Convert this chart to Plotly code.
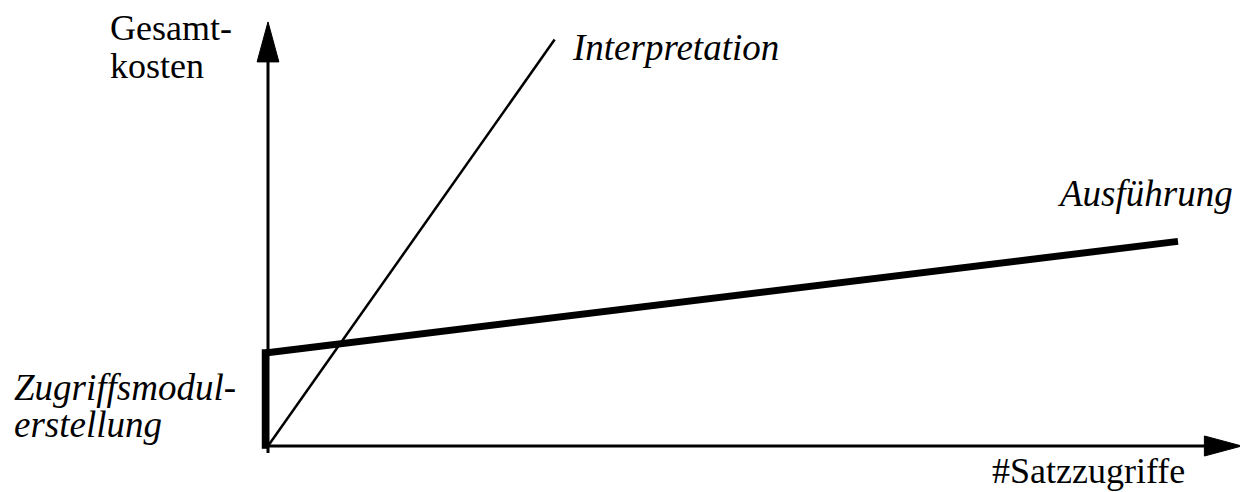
import plotly.graph_objects as go

# Kostenverlauf (willkuerliche Einheiten, Ursprung = 0)
zugriff_x = [-0.3, -0.3]
zugriff_y = [-0.3, 10.4]
ausf_x = [-0.3, 100]
ausf_y = [10, 22]
interp_x = [0, 31.5]
interp_y = [0, 43.7]

# the page body has an 8px margin, so the figure is 8px smaller
OFF = 8
W, H = 1248 - OFF, 492 - OFF
ORIG_X, ORIG_Y = 268 - OFF, 446 - OFF   # origin in figure pixels
SX, SY = 9.1, 9.3                       # pixels per unit
x_rng = [-ORIG_X / SX, (W - ORIG_X) / SX]
y_rng = [-(H - ORIG_Y) / SY, ORIG_Y / SY]

FONT = "Liberation Serif, Times New Roman, serif"


def px(x):
    return (x - OFF) / W


def py(y):
    return 1 - (y - OFF) / H


fig = go.Figure()

fig.add_trace(go.Scatter(x=interp_x, y=interp_y, mode="lines",
                         line=dict(color="black", width=2.5), name="Interpretation"))
fig.add_trace(go.Scatter(x=zugriff_x, y=zugriff_y, mode="lines",
                         line=dict(color="black", width=7), name="Zugriffsmodulerstellung"))
fig.add_trace(go.Scatter(x=ausf_x, y=ausf_y, mode="lines",
                         line=dict(color="black", width=7), name="Ausführung"))

# Achsen mit Pfeilspitzen
shapes = [
    dict(type="line", x0=0, y0=-0.75, x1=0, y1=41.6, line=dict(color="black", width=3)),
    dict(type="path", path="M -1.2,41.3 L 0,45.6 L 1.2,41.3 Z",
         fillcolor="black", line=dict(color="black", width=1)),
    dict(type="line", x0=0, y0=0, x1=103.2, y1=0, line=dict(color="black", width=3)),
    dict(type="path", path="M 102.9,-1.08 L 107,0 L 102.9,1.08 Z",
         fillcolor="black", line=dict(color="black", width=1)),
]

labels = [
    ("Gesamt-", 108, 28, "left", False),
    ("kosten", 108, 66, "left", False),
    ("Interpretation", 570, 47, "left", True),
    ("Ausführung", 1235, 194, "right", True),
    ("Zugriffsmodul-", 12, 387, "left", True),
    ("erstellung", 12, 424, "left", True),
    ("#Satzzugriffe", 1187, 471, "right", False),
]

annotations = []
for text, x, y, anchor, italic in labels:
    annotations.append(dict(
        text=f"<i>{text}</i>" if italic else text,
        x=px(x), y=py(y), xref="paper", yref="paper",
        xanchor=anchor, yanchor="middle", showarrow=False,
        font=dict(family=FONT, size=37 if italic else 36, color="black"),
    ))

fig.update_layout(
    width=W, height=H,
    margin=dict(l=0, r=0, t=0, b=0),
    paper_bgcolor="white", plot_bgcolor="white",
    showlegend=False,
    xaxis=dict(range=x_rng, visible=False, fixedrange=True),
    yaxis=dict(range=y_rng, visible=False, fixedrange=True),
    shapes=shapes,
    annotations=annotations,
)

fig.write_html("out.html", config={"displayModeBar": False})
